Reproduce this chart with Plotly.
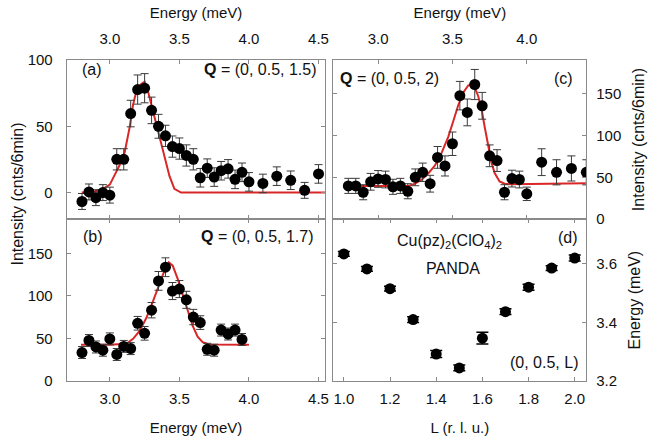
import plotly.graph_objects as go

# ---------------- data ----------------
# (a) Q = (0, 0.5, 1.5)
energy_a = [2.80, 2.85, 2.90, 2.95, 3.00, 3.05, 3.10, 3.15, 3.20, 3.25, 3.30, 3.35, 3.40, 3.45,
            3.50, 3.55, 3.60, 3.65, 3.70, 3.75, 3.80, 3.85, 3.90, 3.95, 4.00, 4.10, 4.20, 4.30,
            4.40, 4.50]
intensity_a = [-6.7, 0.5, -3.8, 0.0, -1.9, 25.1, 25.1, 59.6, 77.7, 78.7, 62.0, 50.0, 42.8, 34.7,
               33.2, 28.0, 25.1, 11.2, 18.4, 11.7, 16.5, 17.9, 10.0, 15.3, 8.1, 6.9, 12.4, 9.3,
               1.7, 14.1]
error_a = [6, 6, 6, 6, 6, 8, 8, 10, 11, 11, 10, 9, 8, 8, 8, 8, 8, 7, 7, 7, 7, 7, 7, 7, 7, 7, 7, 7, 6, 7]
fit_energy_a = [2.798, 2.881, 2.952, 3.0, 3.036, 3.071, 3.107, 3.143, 3.167, 3.195, 3.226, 3.25,
                3.267, 3.29, 3.321, 3.357, 3.393, 3.429, 3.464, 3.512, 4.548]
fit_intensity_a = [0, 0.5, 2.9, 6.0, 13.6, 20.8, 30.4, 49.5, 66.2, 78.2, 81.8, 83.5, 79.4, 69.8,
                   56.6, 41.1, 26.8, 12.4, 2.9, 0, 0]

# (b) Q = (0, 0.5, 1.7)
energy_b = [2.80, 2.85, 2.90, 2.95, 3.00, 3.05, 3.10, 3.15, 3.20, 3.25, 3.30, 3.35, 3.40, 3.45,
            3.50, 3.55, 3.60, 3.65, 3.70, 3.75, 3.80, 3.85, 3.90, 3.95]
intensity_b = [33.6, 47.7, 40.1, 36.3, 49.6, 31.3, 40.8, 38.2, 67.9, 56.1, 83.2, 117.6, 133.6,
               105.7, 108.0, 95.4, 75.2, 68.7, 37.4, 36.3, 59.9, 55.3, 59.9, 48.9]
error_b = [7, 7, 7, 7, 7, 7, 7, 7, 8, 8, 9, 11, 11, 10, 10, 10, 9, 8, 7, 7, 7, 7, 7, 7]
fit_energy_b = [2.793, 3.0, 3.119, 3.167, 3.214, 3.262, 3.31, 3.357, 3.393, 3.424, 3.452, 3.488,
                3.524, 3.56, 3.595, 3.631, 3.667, 3.714, 4.0]
fit_intensity_b = [42.7, 42.7, 43.9, 49.6, 59.0, 74.0, 93.5, 114.5, 129.8, 139.3, 135.5, 120.0,
                   101.0, 82.0, 65.0, 52.3, 45.8, 43.1, 42.7]

# (c) Q = (0, 0.5, 2)
energy_c = [2.80, 2.85, 2.90, 2.95, 3.00, 3.05, 3.10, 3.15, 3.20, 3.25, 3.30, 3.35, 3.40, 3.45,
            3.50, 3.55, 3.60, 3.65, 3.70, 3.75, 3.80, 3.85, 3.90, 3.95, 4.00, 4.10, 4.20, 4.30,
            4.40]
intensity_c = [39.7, 39.7, 32.1, 44.6, 48.0, 47.3, 38.6, 39.7, 33.3, 49.9, 55.9, 42.3, 73.7, 63.5,
               90.0, 147.4, 127.4, 160.7, 135.3, 75.6, 69.9, 32.1, 48.4, 47.3, 30.2, 68.0, 55.9,
               60.5, 55.9]
error_c = [9, 9, 9, 10, 10, 10, 9, 9, 9, 10, 11, 10, 13, 12, 14, 17, 16, 18, 16, 13, 13, 9, 10,
           10, 8, 16, 15, 15, 15]
fit_energy_c = [2.804, 3.205, 3.249, 3.294, 3.339, 3.383, 3.428, 3.472, 3.506, 3.539, 3.572,
                3.606, 3.624, 3.65, 3.673, 3.695, 3.717, 3.739, 3.762, 3.784, 3.817, 3.851,
                3.895, 4.396]
fit_intensity_c = [39.7, 39.7, 42.3, 47.3, 54.8, 64.3, 79.4, 98.3, 117.2, 136.0, 151.0, 159.5,
                   160.7, 157.0, 147.0, 132.0, 110.0, 87.0, 68.0, 55.0, 45.0, 42.3, 41.6, 42.7]

# (d) dispersion along (0, 0.5, L)
L_d = [1.0, 1.1, 1.2, 1.3, 1.4, 1.5, 1.6, 1.7, 1.8, 1.9, 2.0]
energy_d = [3.632, 3.581, 3.514, 3.409, 3.292, 3.245, 3.346, 3.436, 3.519, 3.584, 3.618]
error_d = [0.008, 0.008, 0.008, 0.010, 0.012, 0.010, 0.020, 0.010, 0.010, 0.008, 0.010]

# tick labels
energy_ticks_left = [3.0, 3.5, 4.0, 4.5]
energy_ticks_right = [3.0, 3.5, 4.0]
L_ticks = [1.0, 1.2, 1.4, 1.6, 1.8, 2.0]

# ---------------- figure ----------------
W, H = 650, 444
FONT = "Liberation Sans, Arial, Helvetica, sans-serif"
FRAME = "#8a8a8a"
RED = "#d92626"
TXT = "#111111"


def px(x):
    return x / W


def py(y):
    return 1 - y / H


LEFT = [px(67), px(327)]
RIGHT = [px(335), px(589)]
TOP = [py(218.5), py(53)]
BOTTOM = [py(387), py(218.5)]

fig = go.Figure()

marker = dict(color="black", size=11, symbol="circle")


def add_panel(x, y, err, fx, fy, xa, ya, errw=4, errcolor="#3a3a3a", thick=1):
    if fx is not None:
        fig.add_trace(go.Scatter(x=fx, y=fy, mode="lines", line=dict(color=RED, width=2),
                                 xaxis=xa, yaxis=ya, showlegend=False, hoverinfo="skip"))
    fig.add_trace(go.Scatter(x=x, y=y, mode="markers", marker=marker,
                             error_y=dict(type="data", array=err, visible=True, color=errcolor,
                                          thickness=thick, width=errw),
                             xaxis=xa, yaxis=ya, showlegend=False))


add_panel(energy_a, intensity_a, error_a, fit_energy_a, fit_intensity_a, "x", "y")
add_panel(energy_b, intensity_b, error_b, fit_energy_b, fit_intensity_b, "x2", "y2")
add_panel(energy_c, intensity_c, error_c, fit_energy_c, fit_intensity_c, "x3", "y3")
add_panel(L_d, energy_d, error_d, None, None, "x4", "y4", errw=6, errcolor="black", thick=1.5)

tickfont = dict(family=FONT, size=15, color=TXT)
titlefont = dict(family=FONT, size=15, color=TXT)
ytitlefont = dict(family=FONT, size=16, color=TXT)

common = dict(showline=True, linecolor=FRAME, linewidth=1, mirror="ticks", ticks="inside",
              ticklen=4, tickcolor=FRAME, tickwidth=1, showgrid=False, zeroline=False,
              tickfont=tickfont)

fig.update_layout(
    width=W, height=H,
    margin=dict(l=0, r=0, t=0, b=0),
    paper_bgcolor="white", plot_bgcolor="white",
    font=dict(family=FONT, size=15, color=TXT),
    # (a)
    xaxis=dict(domain=LEFT, anchor="y", range=[2.69, 4.55], side="top", tickvals=energy_ticks_left,
               ticktext=["3.0", "3.5", "4.0", "4.5"], ticklabelstandoff=9,
               title=dict(text="Energy (meV)", font=titlefont, standoff=7), **common),
    yaxis=dict(domain=TOP, anchor="x", range=[-20, 100], tickvals=[0, 50, 100],
               ticklabelstandoff=10, **common),
    # (b)
    xaxis2=dict(domain=LEFT, anchor="y2", range=[2.69, 4.55], side="bottom",
                tickvals=energy_ticks_left, ticktext=["3.0", "3.5", "4.0", "4.5"],
                ticklabelstandoff=4,
                title=dict(text="Energy (meV)", font=titlefont, standoff=16), **common),
    yaxis2=dict(domain=BOTTOM, anchor="x2", range=[0, 190], tickvals=[0, 50, 100, 150],
                ticklabelstandoff=10, **common),
    # (c)
    xaxis3=dict(domain=RIGHT, anchor="y3", range=[2.7, 4.4], side="top", tickvals=energy_ticks_right,
                ticktext=["3.0", "3.5", "4.0"], ticklabelstandoff=9,
                title=dict(text="Energy (meV)", font=titlefont, standoff=7), **common),
    yaxis3=dict(domain=TOP, anchor="x3", range=[0, 190], side="right", tickvals=[0, 50, 100, 150],
                ticklabelstandoff=6,
                title=dict(text="Intensity (cnts/6min)", font=ytitlefont, standoff=12), **common),
    # (d)
    xaxis4=dict(domain=RIGHT, anchor="y4", range=[0.955, 2.05], side="bottom", tickvals=L_ticks,
                ticktext=["1.0", "1.2", "1.4", "1.6", "1.8", "2.0"], ticklabelstandoff=4,
                title=dict(text="L (r. l. u.)", font=titlefont, standoff=16), **common),
    yaxis4=dict(domain=BOTTOM, anchor="x4", range=[3.2, 3.75], side="right", tickvals=[3.2, 3.4, 3.6],
                ticktext=["3.2", "3.4", "3.6"], ticklabelstandoff=6,
                title=dict(text="Energy (meV)", font=ytitlefont, standoff=12), **common),
)

ann_font = dict(family=FONT, size=16, color=TXT)


def note(text, x, y, xanchor):
    fig.add_annotation(text=text, x=px(x), y=py(y), xref="paper", yref="paper",
                       xanchor=xanchor, yanchor="middle", showarrow=False, font=ann_font)


note("(a)", 80, 63, "left")
note("<b>Q</b> = (0, 0.5, 1.5)", 320, 63, "right")
note("(b)", 81, 237, "left")
note("<b>Q</b> = (0, 0.5, 1.7)", 317, 237, "right")
note("<b>Q</b> = (0, 0.5, 2)", 340, 72, "left")
note("(c)", 578, 72, "right")
note("Cu(pz)<sub>2</sub>(ClO<sub>4</sub>)<sub>2</sub>", 452, 242, "center")
note("PANDA", 455, 270, "center")
note("(d)", 583, 238, "right")
note("(0, 0.5, L)", 583, 368, "right")

# shared left y-axis title
fig.add_annotation(text="Intensity (cnts/6min)", x=px(18), y=py(192), xref="paper", yref="paper",
                   xanchor="center", yanchor="middle", textangle=-90, showarrow=False,
                   font=ytitlefont)

fig.write_html("out.html")
